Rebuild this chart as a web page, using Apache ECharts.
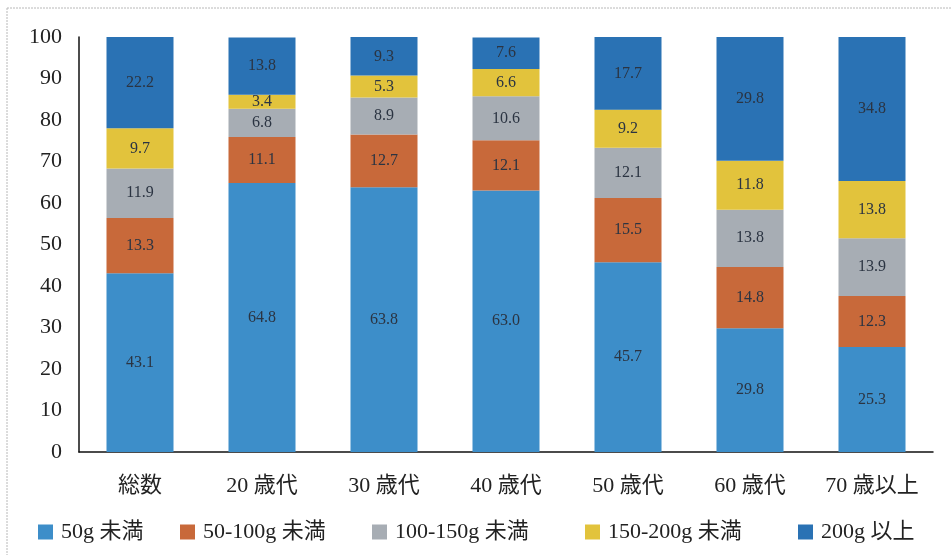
<!DOCTYPE html>
<html>
<head>
<meta charset="utf-8">
<script src="https://cdn.jsdelivr.net/npm/echarts@6/dist/echarts.min.js"></script>
<style>
  html, body { margin: 0; padding: 0; background: #ffffff; }
  #chart { width: 951px; height: 555px; }
</style>
</head>
<body>
<div id="chart"></div>
<script>
// Age groups along the x axis
const categories = ['総数', '20 歳代', '30 歳代', '40 歳代', '50 歳代', '60 歳代', '70 歳以上'];

// Share (%) in each intake band, per age group
const under50 = [43.1, 64.8, 63.8, 63.0, 45.7, 29.8, 25.3];
const from50to100 = [13.3, 11.1, 12.7, 12.1, 15.5, 14.8, 12.3];
const from100to150 = [11.9, 6.8, 8.9, 10.6, 12.1, 13.8, 13.9];
const from150to200 = [9.7, 3.4, 5.3, 6.6, 9.2, 11.8, 13.8];
const over200 = [22.2, 13.8, 9.3, 7.6, 17.7, 29.8, 34.8];

const seriesNames = ['50g 未満', '50-100g 未満', '100-150g 未満', '150-200g 未満', '200g 以上'];
const yTicks = [0, 10, 20, 30, 40, 50, 60, 70, 80, 90, 100];

const colors = ['#3d8ec9', '#c8693a', '#a7adb4', '#e2c33c', '#2a72b4'];
const serif = '"Liberation Serif", "DejaVu Serif", "Noto Sans CJK JP", serif';
const labelColor = '#2b3442';

const seriesData = [under50, from50to100, from100to150, from150to200, over200];

const series = seriesData.map((d, i) => ({
  name: seriesNames[i],
  type: 'bar',
  stack: 'total',
  barWidth: 67,
  data: d,
  itemStyle: { color: colors[i] },
  label: {
    show: true,
    position: 'inside',
    fontFamily: serif,
    fontSize: 16,
    color: labelColor,
    formatter: p => p.value.toFixed(1)
  }
}));

// one legend block per band so each entry sits at its own x position
const legendLefts = [38, 180, 372, 585, 798];
const legends = seriesNames.map((n, i) => ({
  data: [n],
  left: legendLefts[i],
  top: 521,
  padding: 0,
  itemWidth: 15,
  itemHeight: 15,
  icon: 'rect',
  itemGap: 0,
  textStyle: { fontFamily: serif, fontSize: 22, color: '#222', padding: [0, 0, 0, 3] }
}));

const chart = echarts.init(document.getElementById('chart'));
chart.setOption({
  animation: false,
  backgroundColor: '#ffffff',
  color: colors,
  legend: legends,
  grid: { left: 79, right: 18, top: 37, bottom: 103 },
  xAxis: {
    type: 'category',
    data: categories,
    axisLine: { lineStyle: { color: '#111', width: 1.5 } },
    axisTick: { show: false },
    axisLabel: { fontFamily: serif, fontSize: 22, color: '#222', margin: 23 }
  },
  yAxis: {
    type: 'value',
    min: yTicks[0],
    max: yTicks[yTicks.length - 1],
    interval: yTicks[1] - yTicks[0],
    axisLine: { show: true, lineStyle: { color: '#111', width: 1.5 } },
    axisTick: { show: false },
    splitLine: { show: false },
    axisLabel: { fontFamily: serif, fontSize: 22, color: '#222', margin: 17 }
  },
  graphic: [
    { type: 'line', shape: { x1: 7, y1: 8, x2: 7, y2: 555 }, style: { stroke: '#b8b8b8', lineWidth: 1, lineDash: [2, 1] } },
    { type: 'line', shape: { x1: 7, y1: 8, x2: 951, y2: 8 }, style: { stroke: '#b8b8b8', lineWidth: 1, lineDash: [2, 1] } }
  ],
  series: series
});
</script>
</body>
</html>
